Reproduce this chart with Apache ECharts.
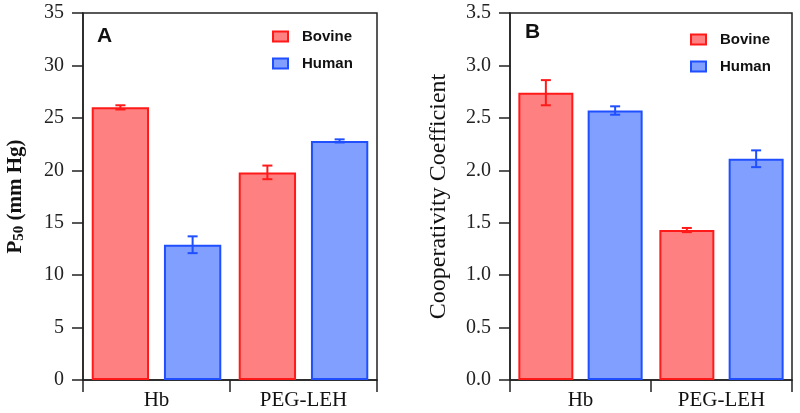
<!DOCTYPE html>
<html>
<head>
<meta charset="utf-8">
<script src="https://cdn.jsdelivr.net/npm/echarts@6/dist/echarts.min.js"></script>
<style>html,body{margin:0;padding:0;background:#fff}#c{width:800px;height:413px}</style>
</head>
<body>
<div id="c"></div>
<script>
const categories = ['Hb', 'PEG-LEH'];
const seriesNames = ['Bovine', 'Human'];
const p50Bovine = [26.0, 19.8];
const p50BovineErr = [0.2, 0.65];
const p50Human = [12.9, 22.8];
const p50HumanErr = [0.8, 0.15];
const coopBovine = [2.74, 1.43];
const coopBovineErr = [0.12, 0.02];
const coopHuman = [2.57, 2.11];
const coopHumanErr = [0.04, 0.08];
const p50Ticks = [0, 35, 5];
const coopTicks = [0, 3.5, 0.5];

const fills = ['#ff8080', '#809fff'];
const borders = ['#ff1a1a', '#1f4fff'];
const BW = 0.39, GAP = 0.26;
const serif = 'Liberation Serif';
const sans = 'Liberation Sans';

function errSeries(gridIdx, sIdx, vals, errs) {
  return {
    type: 'custom', xAxisIndex: gridIdx, yAxisIndex: gridIdx, z: 5, silent: true,
    data: vals.map((v, i) => [i, v, errs[i]]),
    renderItem: function (params, api) {
      const i = api.value(0), v = api.value(1), e = api.value(2);
      const band = api.size([1, 0])[0];
      const bw = band * BW;
      const off = (bw + bw * GAP) / 2 * (sIdx === 0 ? -1 : 1);
      const top = api.coord([i, v + e]);
      const bot = api.coord([i, v - e]);
      const x = top[0] + off;
      const cap = 5;
      const st = { stroke: borders[sIdx], lineWidth: 2 };
      return { type: 'group', children: [
        { type: 'line', shape: { x1: x, y1: top[1], x2: x, y2: bot[1] }, style: st },
        { type: 'line', shape: { x1: x - cap, y1: top[1], x2: x + cap, y2: top[1] }, style: st },
        { type: 'line', shape: { x1: x - cap, y1: bot[1], x2: x + cap, y2: bot[1] }, style: st }
      ]};
    }
  };
}
function barSeries(gridIdx, sIdx, vals) {
  return {
    name: seriesNames[sIdx], type: 'bar', xAxisIndex: gridIdx, yAxisIndex: gridIdx,
    data: vals, barWidth: (BW * 100) + '%', barGap: (GAP * 100) + '%',
    itemStyle: { color: fills[sIdx], borderColor: borders[sIdx], borderWidth: 2 }
  };
}
function xAx(gridIdx) {
  return {
    type: 'category', gridIndex: gridIdx, data: categories,
    axisLine: { lineStyle: { color: '#222', width: 1.5 } },
    axisTick: { show: true, length: 12, lineStyle: { color: '#222', width: 1.5 } },
    axisLabel: { fontFamily: serif, fontSize: 21, color: '#111', margin: 10 }
  };
}
function yAx(gridIdx, t, dec, name, nameGap, nameSize) {
  return {
    type: 'value', gridIndex: gridIdx, min: t[0], max: t[1], interval: t[2],
    splitLine: { show: false },
    axisLine: { show: true, lineStyle: { color: '#222', width: 1.5 } },
    axisTick: { show: true, length: 11, lineStyle: { color: '#222', width: 1.5 } },
    axisLabel: { fontFamily: serif, fontSize: 20, color: '#222', margin: 19,
      formatter: v => v.toFixed(dec) },
    name: name, nameLocation: 'middle', nameGap: nameGap, nameRotate: 90,
    nameTextStyle: {
      fontFamily: serif, fontSize: nameSize, color: '#111',
      rich: {
        b: { fontFamily: serif, fontSize: 21, fontWeight: 'bold', color: '#111' },
        s: { fontFamily: serif, fontSize: 15, fontWeight: 'bold', color: '#111', verticalAlign: 'bottom', padding: [8, 0, 0, 0] }
      }
    }
  };
}
function legend(left, top) {
  return {
    left: left, top: top, padding: 0, orient: 'vertical', data: seriesNames, icon: 'rect',
    itemWidth: 15, itemHeight: 10, itemGap: 12, selectedMode: false,
    textStyle: { fontFamily: sans, fontWeight: 'bold', fontSize: 15, color: '#111', padding: [0, 0, 0, 9] }
  };
}

const chart = echarts.init(document.getElementById('c'), null, { renderer: 'canvas' });
chart.setOption({
  animation: false,
  grid: [
    { left: 83, right: 423, top: 13, bottom: 33, show: true, borderColor: '#222', borderWidth: 1.5 },
    { left: 510, right: 8, top: 13, bottom: 33, show: true, borderColor: '#222', borderWidth: 1.5 }
  ],
  legend: [legend(272, 29), legend(690, 32)],
  xAxis: [xAx(0), xAx(1)],
  yAxis: [
    yAx(0, p50Ticks, 0, '{b|P}{s|50}{b| (mm Hg)}', 56, 21),
    yAx(1, coopTicks, 1, 'Cooperativity Coefficient', 59, 24)
  ],
  graphic: [
    { type: 'text', left: 97, top: 26, style: { text: 'A', font: 'bold 21px "Liberation Sans"', fill: '#111' } },
    { type: 'text', left: 525, top: 22, style: { text: 'B', font: 'bold 21px "Liberation Sans"', fill: '#111' } }
  ],
  series: [
    barSeries(0, 0, p50Bovine), barSeries(0, 1, p50Human),
    errSeries(0, 0, p50Bovine, p50BovineErr), errSeries(0, 1, p50Human, p50HumanErr),
    barSeries(1, 0, coopBovine), barSeries(1, 1, coopHuman),
    errSeries(1, 0, coopBovine, coopBovineErr), errSeries(1, 1, coopHuman, coopHumanErr)
  ]
});
</script>
</body>
</html>
